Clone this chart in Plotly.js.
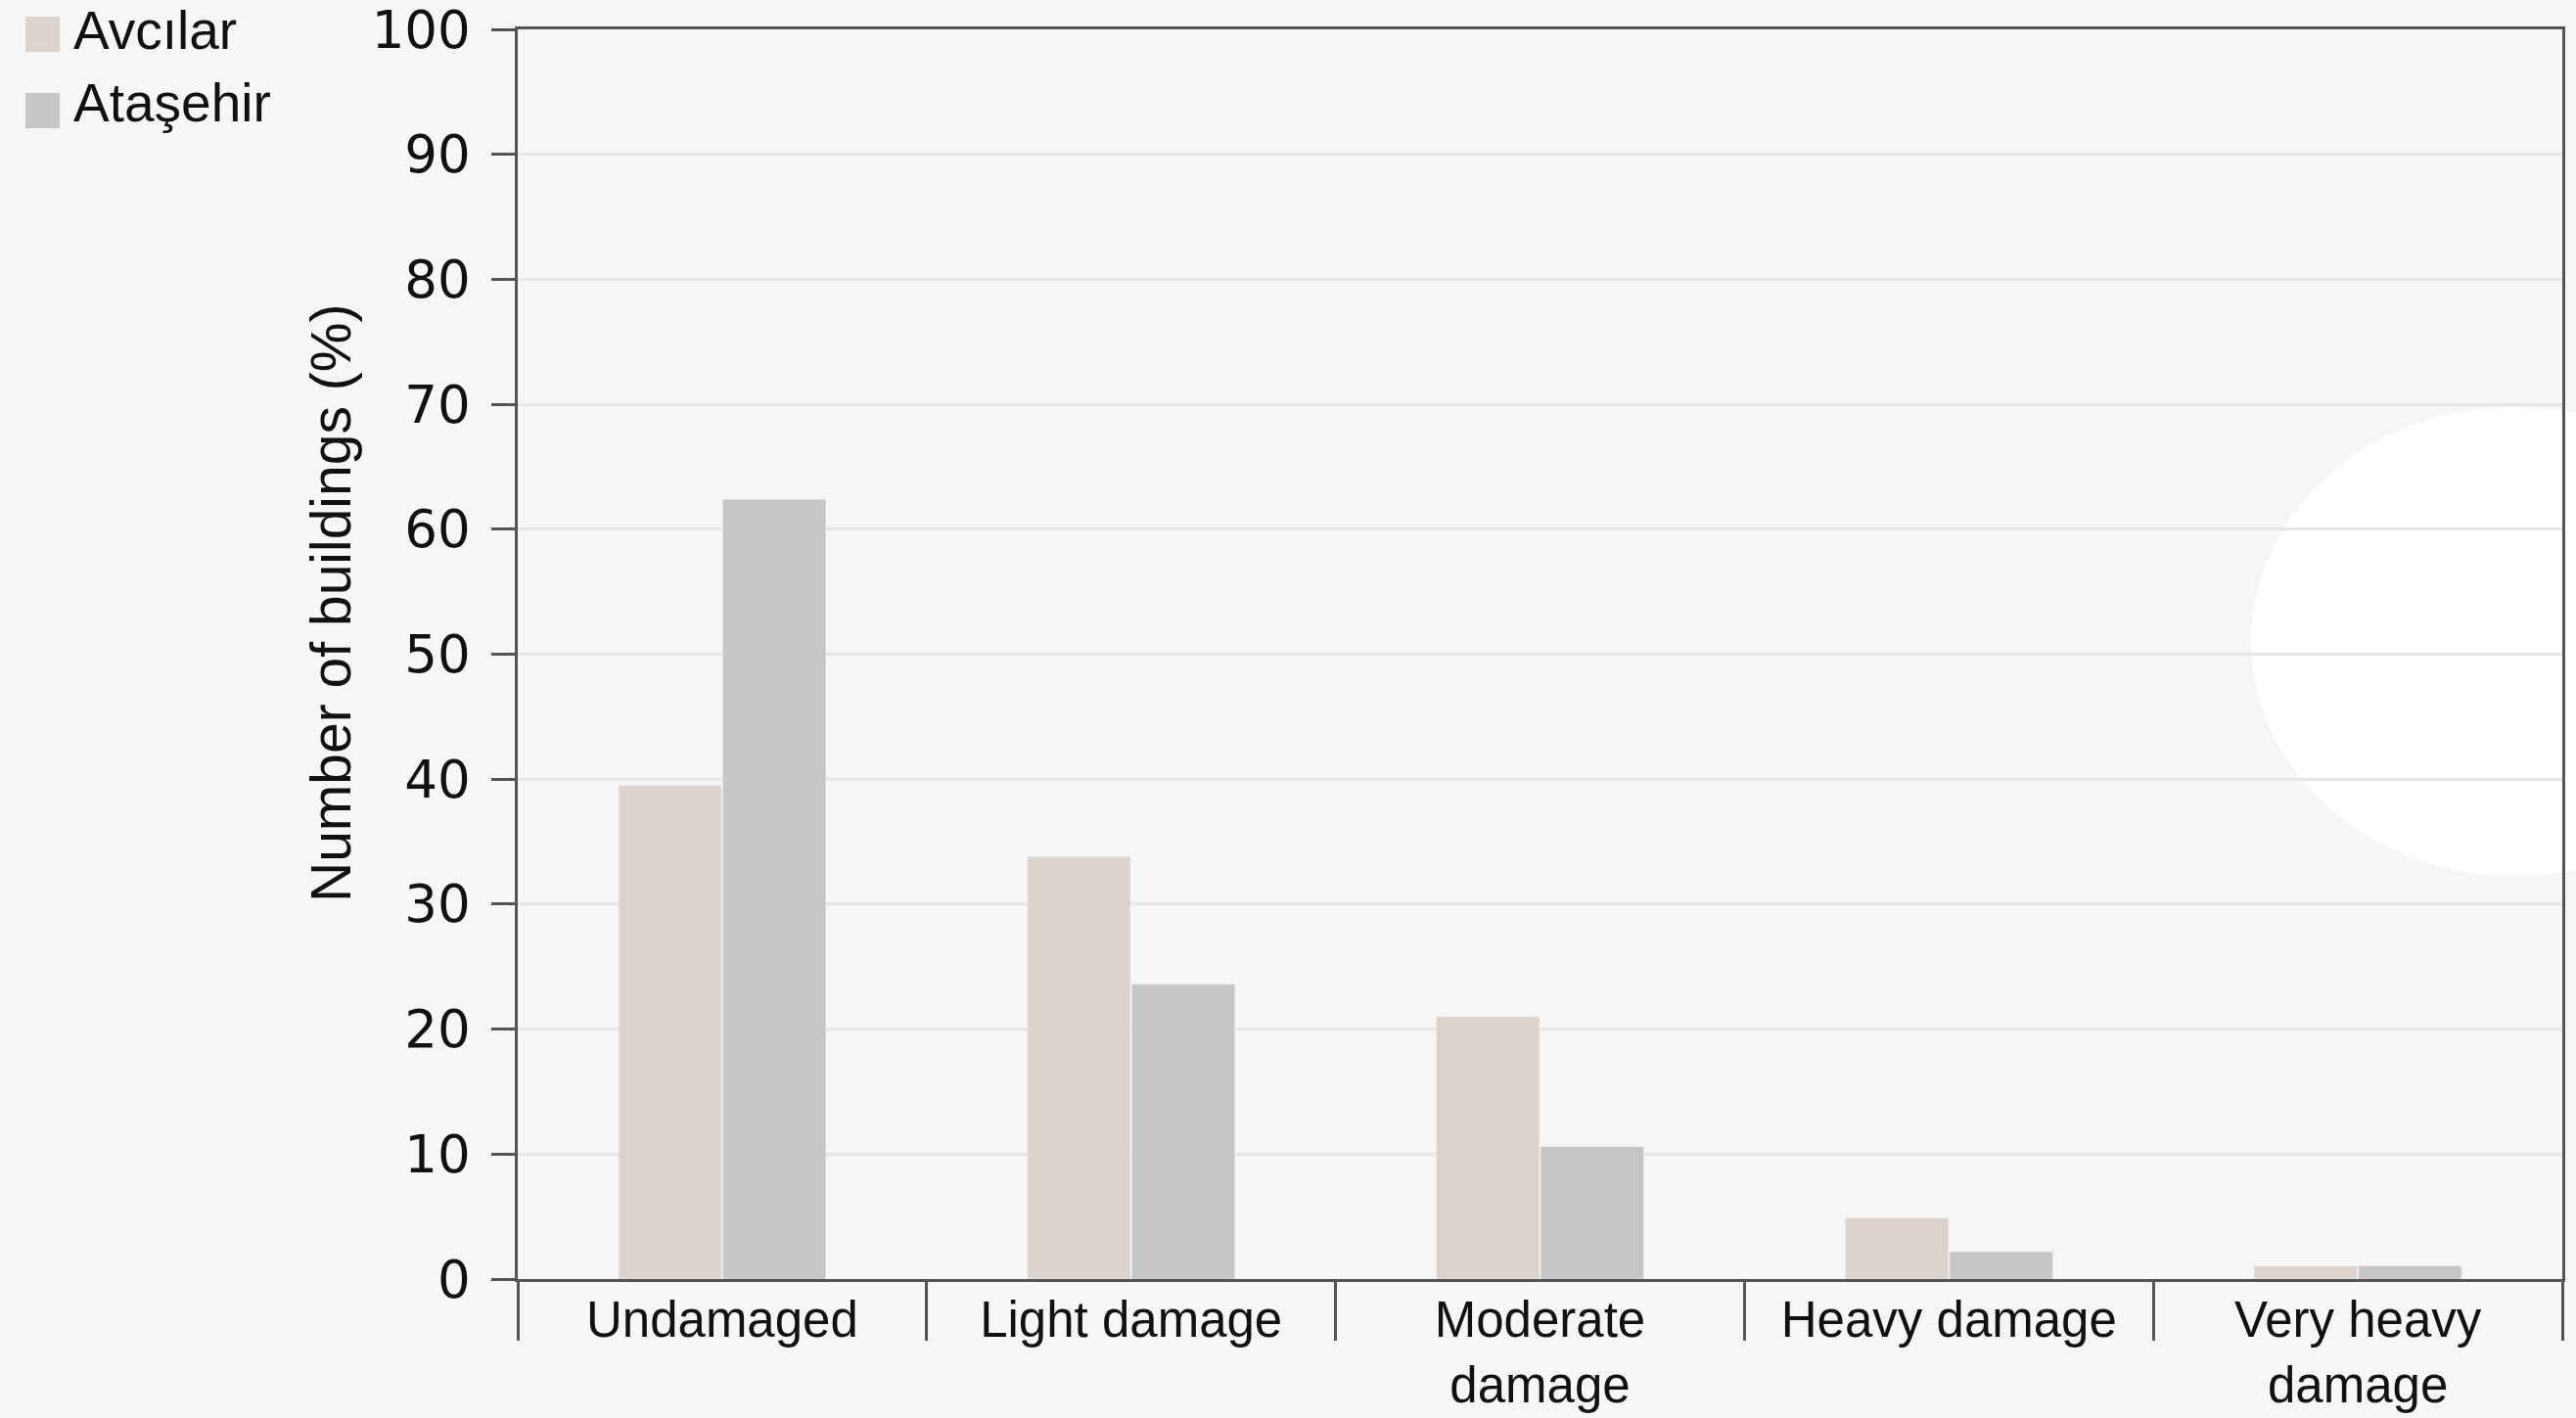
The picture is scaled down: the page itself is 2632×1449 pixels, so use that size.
<!DOCTYPE html>
<html>
<head>
<meta charset="utf-8">
<script src="https://cdn.plot.ly/plotly-3.0.1.min.js"></script>
<style>html,body{margin:0;padding:0;background:#f6f6f6;}#chart{width:2632px;height:1449px;}</style>
</head>
<body>
<div id="chart"></div>
<script>
// ---- data ----
const categories = ["Undamaged", "Light damage", "Moderate<br>damage", "Heavy damage", "Very heavy<br>damage"];
const seriesNames = ["Avcılar", "Ataşehir"];
const avcilar = [39.5, 33.8, 21.0, 4.9, 1.05];
const atasehir = [62.4, 23.6, 10.6, 2.2, 1.05];
const yTicks = [0, 10, 20, 30, 40, 50, 60, 70, 80, 90, 100];
const yTitle = "Number of buildings (%)";

// ---- styles ----
const colors = ["#dcd3cc", "#c6c6c6"];
const W = 2632, H = 1449;
const M = {l: 529, r: 14, t: 30, b: 142};
const PW = W - M.l - M.r, PH = H - M.t - M.b;
const px = x => (x - M.l) / PW;
const py = y => (H - M.b - y) / PH;

const traces = [avcilar, atasehir].map((vals, i) => ({
  type: "bar",
  name: seriesNames[i],
  x: categories,
  y: vals,
  marker: {color: colors[i], line: {width: 1, color: "rgba(255,255,255,0.35)"}},
  showlegend: false,
  hoverinfo: "x+y+name"
}));

const textFont = {family: "Liberation Sans, Arial, sans-serif", size: 51, color: "#111"};
const legendFont = {family: "Liberation Sans, Arial, sans-serif", size: 55, color: "#111"};

const shapes = [
  {type: "circle", xref: "paper", yref: "paper", layer: "below",
   x0: px(2300), x1: px(2836), y0: py(416), y1: py(895),
   fillcolor: "#ffffff", line: {width: 0}}
];
const annotations = [
  {xref: "paper", yref: "paper", x: px(338), y: py(617), text: yTitle, textangle: -90,
   showarrow: false, xanchor: "center", yanchor: "middle",
   font: {family: "Liberation Sans, Arial, sans-serif", size: 57, color: "#111"}}
];
// legend (custom, larger swatches)
const legendRows = [35, 113];
const legendTextRows = [31, 105];
seriesNames.forEach((nm, i) => {
  const cy = legendRows[i];
  shapes.push({type: "rect", xref: "paper", yref: "paper", layer: "above",
    x0: px(26), x1: px(61), y0: py(cy - 18), y1: py(cy + 18),
    fillcolor: colors[i], line: {width: 0}});
  annotations.push({xref: "paper", yref: "paper", x: px(73), y: py(legendTextRows[i]), text: nm,
    showarrow: false, xanchor: "left", yanchor: "middle", font: legendFont});
});

const layout = {
  width: W, height: H,
  margin: M,
  paper_bgcolor: "#f6f6f6",
  plot_bgcolor: "rgba(0,0,0,0)",
  barmode: "group",
  bargap: 0.49,
  bargroupgap: 0.01,
  showlegend: false,
  xaxis: {
    type: "category",
    tickson: "boundaries",
    ticks: "outside", ticklen: 60, tickwidth: 3, tickcolor: "#555",
    showline: true, linecolor: "#555", linewidth: 3, mirror: true,
    showgrid: false,
    tickfont: textFont,
    ticklabelstandoff: -5,
    ticklabeloverflow: "allow"
  },
  yaxis: {
    range: [0, 100],
    tickvals: yTicks,
    ticktext: yTicks.map(v => String(v) + "\u2009"),
    ticks: "outside", ticklen: 24, tickwidth: 3, tickcolor: "#555",
    showline: true, linecolor: "#555", linewidth: 3, mirror: true,
    showgrid: true, gridcolor: "#e6e6e6", gridwidth: 3,
    zeroline: false,
    ticklabeloverflow: "allow",
    tickfont: {family: "DejaVu Sans, sans-serif", size: 53, color: "#111"}
  },
  shapes: shapes,
  annotations: annotations
};

Plotly.newPlot("chart", traces, layout, {staticPlot: true, displayModeBar: false});
</script>
</body>
</html>
